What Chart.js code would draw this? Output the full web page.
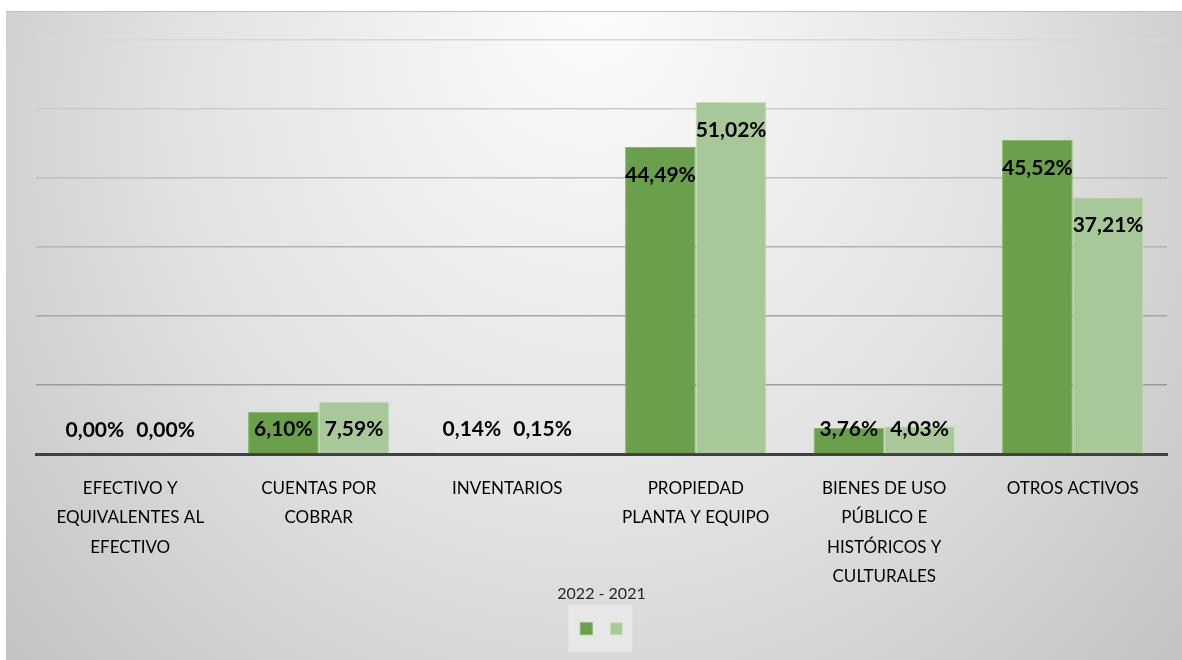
<!DOCTYPE html>
<html>
<head>
<meta charset="utf-8">
<script src="https://cdn.jsdelivr.net/npm/chart.js@4.4.0/dist/chart.umd.min.js"></script>
<style>
  html, body { margin: 0; padding: 0; background: #ffffff; }
  #wrap { width: 1182px; height: 660px; position: relative; }
</style>
</head>
<body>
<div id="wrap"><canvas id="activosChart"></canvas></div>
<script>
// categorias del eje X (una entrada por linea)
const categorias = [
  ["EFECTIVO Y", "EQUIVALENTES AL", "EFECTIVO"],
  ["CUENTAS POR", "COBRAR"],
  ["INVENTARIOS"],
  ["PROPIEDAD", "PLANTA Y EQUIPO"],
  ["BIENES DE USO", "PÚBLICO E", "HISTÓRICOS Y", "CULTURALES"],
  ["OTROS ACTIVOS"]
];
const valores2022 = [0.00, 6.10, 0.14, 44.49, 3.76, 45.52];
const valores2021 = [0.00, 7.59, 0.15, 51.02, 4.03, 37.21];
const ejeYMax = 60;
const ejeYPaso = 10;
const tituloLeyenda = "2022 - 2021";

const FUENTE = "Lato, 'Open Sans', sans-serif";

document.addEventListener("DOMContentLoaded", () => {
  const canvas = document.getElementById("activosChart");
  const ctx = canvas.getContext("2d");

  // fondo con degradado radial, como el grafico original
  const fondoPlugin = {
    id: "fondo",
    beforeDraw(chart) {
      const c = chart.ctx;
      const w = chart.width, h = chart.height;
      c.save();
      c.fillStyle = "#ffffff";
      c.fillRect(0, 0, w, h);
      const g = c.createRadialGradient(w / 2, 0, 20, w / 2, h * 0.3, w * 0.62);
      g.addColorStop(0, "#fbfbfb");
      g.addColorStop(0.55, "#e2e2e2");
      g.addColorStop(1, "#c4c4c4");
      c.fillStyle = g;
      c.fillRect(6, 11, w - 6, h - 11);
      c.strokeStyle = "#c0c0c0";
      c.lineWidth = 1;
      c.beginPath();
      c.moveTo(6, 11.5);
      c.lineTo(w, 11.5);
      c.stroke();

      // caja clara detras de los cuadros de la leyenda
      const cajas = chart.legend && chart.legend.legendHitBoxes;
      if (cajas && cajas.length) {
        const x0 = Math.min(...cajas.map(b => b.left)) - 12;
        const x1 = Math.max(...cajas.map(b => b.left + 12)) + 10;
        const yc = cajas[0].top + cajas[0].height / 2;
        c.fillStyle = "rgba(235,235,235,0.75)";
        c.fillRect(x0, yc - 24, x1 - x0, 47);
      }
      c.restore();
    }
  };

  // etiquetas de datos en negrita
  const etiquetasPlugin = {
    id: "etiquetas",
    afterDatasetsDraw(chart) {
      const c = chart.ctx;
      c.save();
      c.font = "bold 21px " + FUENTE;
      c.fillStyle = "#000000";
      c.textAlign = "center";
      c.textBaseline = "middle";
      chart.data.datasets.forEach((ds, i) => {
        chart.getDatasetMeta(i).data.forEach((el, j) => {
          const texto = ds.data[j].toFixed(2).replace(".", ",") + "%";
          const y = Math.min(el.y + 28, el.base - 24);
          c.fillText(texto, el.x, y);
        });
      });
      c.restore();
    }
  };

  const colorGrid = (valor) => {
    const t = valor / ejeYMax;
    const v = Math.round(140 + (215 - 140) * t);
    return "rgb(" + v + "," + v + "," + v + ")";
  };

  new Chart(ctx, {
    type: "bar",
    data: {
      labels: categorias,
      datasets: [
        {
          label: "2022",
          data: valores2022,
          backgroundColor: "#6a9f4c",
          borderColor: "#86b868",
          borderWidth: 1,
          categoryPercentage: 0.75,
          barPercentage: 1.0
        },
        {
          label: "2021",
          data: valores2021,
          backgroundColor: "#a8c899",
          borderColor: "#c6e0b9",
          borderWidth: 1,
          categoryPercentage: 0.75,
          barPercentage: 1.0
        }
      ]
    },
    options: {
      responsive: true,
      maintainAspectRatio: false,
      animation: false,
      layout: {
        padding: { top: 40, left: 36, right: 15, bottom: 15.3 }
      },
      scales: {
        x: {
          grid: { display: false, drawTicks: false },
          border: { display: true, color: "#404040", width: 3 },
          ticks: {
            color: "#000000",
            font: { family: FUENTE, size: 17, lineHeight: 1.72 },
            padding: 20,
            maxRotation: 0,
            autoSkip: false
          },
          // las etiquetas largas se meten bajo la leyenda, como en el original
          afterFit: (scale) => { scale.height = 130.3; }
        },
        y: {
          min: 0,
          max: ejeYMax,
          ticks: { display: false, stepSize: ejeYPaso },
          border: { display: false },
          grid: {
            drawTicks: false,
            lineWidth: 1.5,
            color: (c) => colorGrid(c.tick.value)
          }
        }
      },
      plugins: {
        tooltip: { enabled: false },
        title: { display: false },
        legend: {
          display: true,
          position: "bottom",
          title: {
            display: true,
            text: tituloLeyenda,
            color: "#262626",
            font: { family: FUENTE, size: 16 },
            padding: { top: 1.7, bottom: 0 }
          },
          labels: {
            boxWidth: 12,
            boxHeight: 12,
            padding: 17.5,
            font: { family: FUENTE, size: 1 },
            generateLabels: (chart) =>
              chart.data.datasets.map((ds, i) => ({
                text: "",
                fillStyle: ds.backgroundColor,
                strokeStyle: ds.borderColor,
                lineWidth: 1,
                datasetIndex: i
              }))
          }
        }
      }
    },
    plugins: [fondoPlugin, etiquetasPlugin]
  });
});
</script>
</body>
</html>
